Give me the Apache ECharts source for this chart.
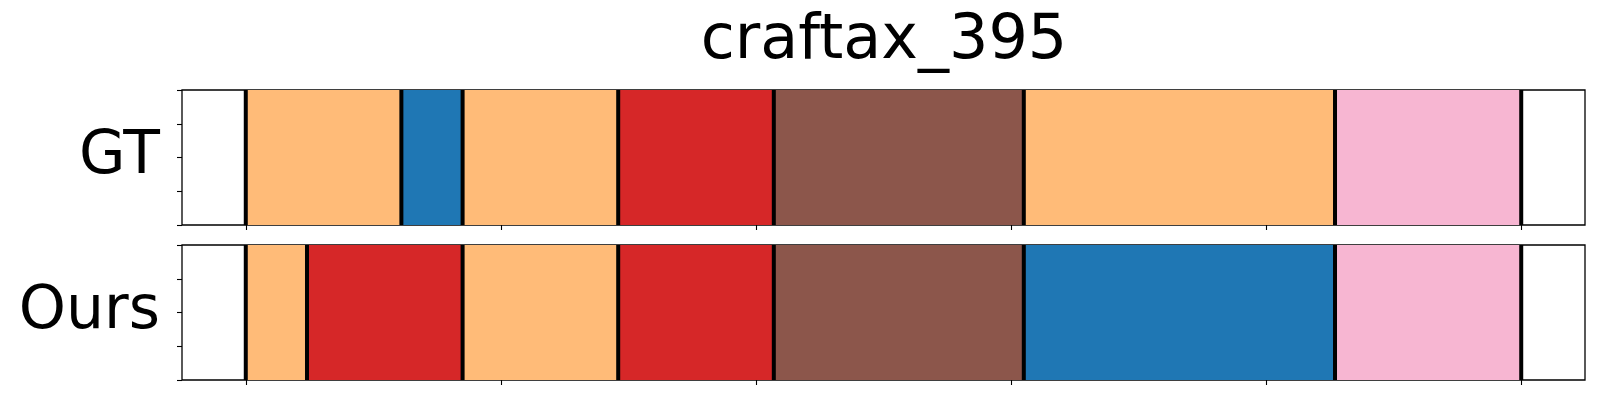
<!DOCTYPE html>
<html>
<head>
<meta charset="utf-8">
<script src="https://cdn.jsdelivr.net/npm/echarts@6/dist/echarts.min.js"></script>
<style>html,body{margin:0;padding:0;background:#fff;}#chart{width:1600px;height:400px;}</style>
</head>
<body>
<div id="chart"></div>
<script>
// ---- data ----
const title = 'craftax_395';
const rowLabels = ['GT', 'Ours'];
const xTicks = [0, 100, 200, 300, 400, 500];
const gtBounds = [0, 61, 85, 146, 207, 305, 427, 500];
const gtClasses = ['orange', 'blue', 'orange', 'red', 'brown', 'orange', 'pink'];
const oursBounds = [0, 24, 85, 146, 207, 305, 427, 500];
const oursClasses = ['orange', 'red', 'orange', 'red', 'brown', 'blue', 'pink'];

// ---- style ----
const palette = { orange: '#ffbb78', blue: '#1f77b4', red: '#d62728', brown: '#8c564b', pink: '#f7b6d2' };

function segData(bounds, classes) {
  return classes.map((c, i) => ({ value: [bounds[i], bounds[i + 1]], itemStyle: { color: palette[c] } }));
}
function renderSeg(params, api) {
  const a = api.coord([api.value(0), 1]);
  const b = api.coord([api.value(1), 0]);
  return { type: 'rect', shape: { x: a[0], y: a[1], width: b[0] - a[0], height: b[1] - a[1] }, style: { fill: api.visual('color') } };
}
function renderLine(params, api) {
  const a = api.coord([api.value(0), 1]);
  const b = api.coord([api.value(0), 0]);
  return { type: 'line', shape: { x1: a[0], y1: a[1], x2: b[0], y2: b[1] }, style: { stroke: '#000', lineWidth: 4 } };
}

const gridsPos = [{ top: 90, height: 135 }, { top: 245, height: 135 }];
const grids = gridsPos.map(g => ({ left: 182, right: 15, top: g.top, height: g.height, show: true, borderColor: '#000', borderWidth: 1.3, backgroundColor: 'transparent' }));
const xAxes = [0, 1].map(i => ({
  type: 'value', gridIndex: i, min: -25, max: 525, position: 'bottom',
  axisLine: { show: false, onZero: false }, splitLine: { show: false },
  axisTick: { show: true, customValues: xTicks, length: 5, inside: false, lineStyle: { color: '#000', width: 1.1 } },
  axisLabel: { show: false }
}));
const yAxes = [0, 1].map(i => ({
  type: 'value', gridIndex: i, min: 0, max: 1, interval: 0.25, position: 'left',
  axisLine: { show: false, onZero: false }, splitLine: { show: false },
  axisTick: { show: true, length: 5, inside: false, lineStyle: { color: '#000', width: 1.1 } },
  axisLabel: { show: false },
  name: rowLabels[i], nameLocation: 'middle', nameRotate: 0, nameGap: 22,
  nameTextStyle: { fontFamily: 'DejaVu Sans', fontSize: 60, color: '#000', align: 'right', verticalAlign: 'middle', padding: [0, 0, 7, 0] }
}));

const allData = [[gtBounds, gtClasses], [oursBounds, oursClasses]];
const series = [];
allData.forEach(([b, c], i) => {
  series.push({ type: 'custom', xAxisIndex: i, yAxisIndex: i, renderItem: renderSeg, data: segData(b, c), silent: true, animation: false });
  series.push({ type: 'custom', xAxisIndex: i, yAxisIndex: i, renderItem: renderLine, data: b.map(v => [v]), silent: true, animation: false, z: 3 });
});

const chart = echarts.init(document.getElementById('chart'), null, { renderer: 'canvas' });
chart.setOption({
  animation: false,
  backgroundColor: '#fff',
  title: { text: title, left: 879, top: 6, textAlign: 'center', textStyle: { fontFamily: 'DejaVu Sans', fontSize: 62, fontWeight: 'normal', color: '#000' } },
  grid: grids, xAxis: xAxes, yAxis: yAxes, series: series
});
</script>
</body>
</html>
